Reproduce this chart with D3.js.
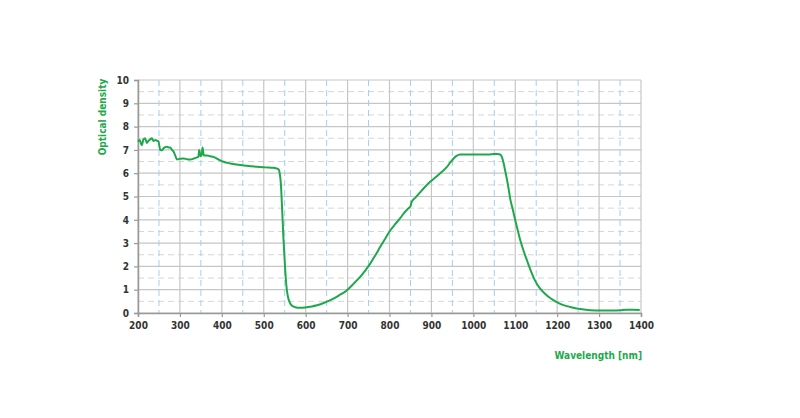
<!DOCTYPE html>
<html>
<head>
<meta charset="utf-8">
<script src="https://cdn.jsdelivr.net/npm/d3@7"></script>
<style>
  body { margin: 0; background: #fff; }
  text { font-family: "Liberation Sans Narrow", "DejaVu Sans Condensed", "Roboto Condensed", sans-serif; }
</style>
</head>
<body>
<div class="canvas"></div>
<script>
// wavelength [nm] and optical density
const wavelength = [200, 204, 209, 213, 217, 221, 225, 229, 233, 237, 241, 245, 249, 253, 257, 261, 265, 269, 273, 277, 281, 285, 289, 293, 300, 309, 317, 325, 333, 341, 344, 346, 349, 352, 354, 357, 365, 372, 380, 388, 396, 404, 420, 444, 464, 484, 504, 523, 531, 535, 538, 541, 544, 547, 551, 555, 559, 563, 567, 575, 587, 603, 615, 627, 643, 659, 679, 698, 714, 730, 742, 754, 766, 778, 790, 802, 814, 825, 835, 845, 850, 853, 862, 873, 885, 897, 905, 913, 925, 937, 945, 953, 960, 968, 980, 1000, 1016, 1036, 1050, 1058, 1064, 1068, 1072, 1076, 1080, 1084, 1088, 1094, 1100, 1106, 1112, 1120, 1128, 1137, 1147, 1158, 1171, 1185, 1199, 1215, 1231, 1255, 1279, 1305, 1334, 1350, 1366, 1382, 1397];
const density = [7.35, 7.42, 7.2, 7.45, 7.5, 7.3, 7.39, 7.45, 7.5, 7.38, 7.42, 7.4, 7.35, 7.0, 6.98, 7.07, 7.12, 7.14, 7.1, 7.1, 7.0, 6.92, 6.75, 6.59, 6.62, 6.63, 6.6, 6.59, 6.63, 6.68, 6.7, 7.0, 6.73, 6.8, 7.1, 6.76, 6.76, 6.73, 6.7, 6.63, 6.55, 6.49, 6.42, 6.35, 6.31, 6.28, 6.25, 6.23, 6.2, 6.18, 6.0, 5.5, 4.4, 3.2, 1.9, 1.0, 0.6, 0.42, 0.32, 0.25, 0.22, 0.25, 0.28, 0.33, 0.43, 0.55, 0.75, 0.97, 1.25, 1.55, 1.82, 2.12, 2.47, 2.84, 3.2, 3.55, 3.82, 4.06, 4.3, 4.49, 4.58, 4.77, 4.95, 5.18, 5.42, 5.63, 5.75, 5.87, 6.06, 6.27, 6.46, 6.63, 6.74, 6.8, 6.8, 6.8, 6.8, 6.8, 6.82, 6.82, 6.8, 6.7, 6.45, 6.1, 5.75, 5.35, 4.9, 4.45, 3.98, 3.55, 3.12, 2.66, 2.26, 1.82, 1.4, 1.08, 0.83, 0.62, 0.47, 0.34, 0.26, 0.17, 0.12, 0.11, 0.11, 0.12, 0.14, 0.14, 0.13];

const xTicks = [200, 300, 400, 500, 600, 700, 800, 900, 1000, 1100, 1200, 1300, 1400];
const yTicks = [0, 1, 2, 3, 4, 5, 6, 7, 8, 9, 10];

const green = '#1ea84c';
const margin = { top: 80, left: 138, right: 159, bottom: 105 };
const width = 800, height = 418;
const innerW = width - margin.left - margin.right;
const innerH = height - margin.top - margin.bottom;

const svg = d3.select('.canvas')
  .append('svg')
  .attr('width', width)
  .attr('height', height);

const graph = svg.append('g')
  .attr('transform', `translate(${margin.left}, ${margin.top})`);

const x = d3.scaleLinear().domain([200, 1400]).range([0, innerW]);
const y = d3.scaleLinear().domain([0, 10]).range([innerH, 0]);

// grid: half steps dashed, full steps solid
const halfX = d3.range(250, 1400, 100);
const halfY = d3.range(0.5, 10, 1);

graph.selectAll('.hx').data(halfY).enter().append('line')
  .attr('x1', 0).attr('x2', innerW)
  .attr('y1', d => y(d)).attr('y2', d => y(d))
  .attr('stroke', '#d6d6d6').attr('stroke-dasharray', '6,4');

graph.selectAll('.vx').data(halfX).enter().append('line')
  .attr('y1', 0).attr('y2', innerH)
  .attr('x1', d => x(d)).attr('x2', d => x(d))
  .attr('stroke', '#a3cff3').attr('stroke-dasharray', '6,4');

graph.selectAll('.hy').data(yTicks).enter().append('line')
  .attr('x1', 0).attr('x2', innerW)
  .attr('y1', d => y(d)).attr('y2', d => y(d))
  .attr('stroke', '#c6c6c6').attr('stroke-width', 1.2);

graph.selectAll('.vy').data(xTicks).enter().append('line')
  .attr('y1', 0).attr('y2', innerH)
  .attr('x1', d => x(d)).attr('x2', d => x(d))
  .attr('stroke', '#c6c6c6').attr('stroke-width', 1.2);

// axes
const xAxis = d3.axisBottom(x).tickValues(xTicks).tickSize(4).tickPadding(5).tickFormat(d3.format('d'));
const yAxis = d3.axisLeft(y).tickValues(yTicks).tickSize(4).tickPadding(5);

const gx = graph.append('g').attr('transform', `translate(0, ${innerH})`).call(xAxis);
const gy = graph.append('g').call(yAxis);

[gx, gy].forEach(g => {
  g.select('.domain').attr('stroke', '#999').attr('stroke-width', 1.5);
  g.selectAll('.tick line').attr('stroke', '#999').attr('stroke-width', 1.2);
  g.selectAll('text')
    .attr('fill', '#333')
    .attr('font-size', 10)
    .attr('font-weight', 'bold');
});

// curve
const line = d3.line()
  .x((d, i) => x(wavelength[i]))
  .y(d => y(d))
  .curve(d3.curveMonotoneX);

graph.append('path')
  .datum(density)
  .attr('fill', 'none')
  .attr('stroke', green)
  .attr('stroke-width', 2)
  .attr('stroke-linejoin', 'round')
  .attr('d', line);

// axis titles
svg.append('text')
  .attr('transform', `translate(106, 117) rotate(-90)`)
  .attr('text-anchor', 'middle')
  .attr('fill', green)
  .attr('font-size', 10)
  .attr('font-weight', 'bold')
  .text('Optical density');

svg.append('text')
  .attr('x', margin.left + innerW + 1)
  .attr('y', 359)
  .attr('text-anchor', 'end')
  .attr('fill', green)
  .attr('font-size', 10)
  .attr('font-weight', 'bold')
  .text('Wavelength [nm]');
</script>
</body>
</html>
